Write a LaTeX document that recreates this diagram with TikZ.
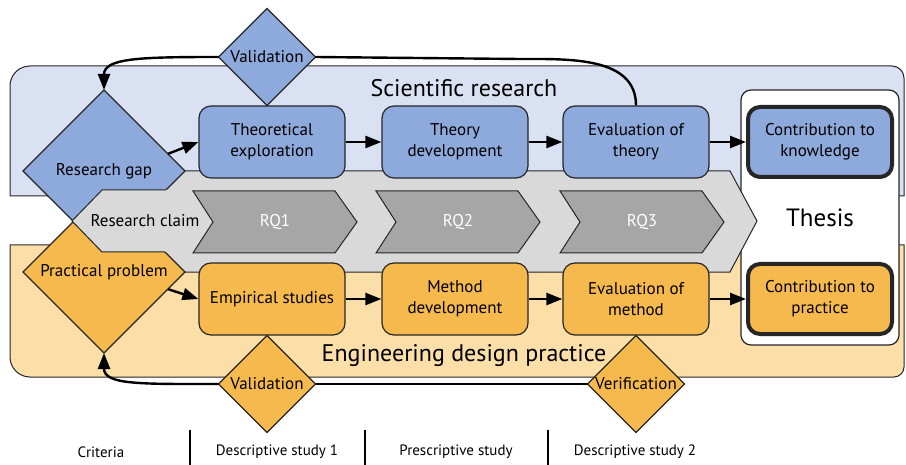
\documentclass[tikz,border=0pt]{standalone}
\usepackage{fontspec}
\setmainfont{PT Sans}
\usetikzlibrary{shapes.geometric, arrows.meta}

\definecolor{sciblue}{HTML}{8EA9DB}
\definecolor{scibg}{HTML}{DAE1F3}
\definecolor{engorange}{HTML}{F5B94E}
\definecolor{engbg}{HTML}{FBDEA8}
\definecolor{claimgray}{HTML}{D9D9D9}
\definecolor{rqgray}{HTML}{A6A6A6}
\definecolor{edgegray}{HTML}{262626}

\tikzset{
  every node/.style={font=\fontsize{8.5}{10.5}\selectfont, align=center, text=black}, % all labels
  band/.style={draw=edgegray, line width=0.5pt}, % the two coloured backgrounds
  box/.style={draw=edgegray, line width=0.6pt, rounded corners=6pt, minimum width=73pt, minimum height=36pt, inner sep=1pt},
  scibox/.style={box, fill=sciblue},
  engbox/.style={box, fill=engorange},
  contrib/.style={line width=2pt, minimum width=72pt, minimum height=35pt}, % thick outcome boxes
  gate/.style={diamond, draw=edgegray, line width=0.6pt, inner sep=0pt, outer sep=0pt}, % decision diamonds
  chevron/.style={draw=edgegray, line width=0.5pt},
  flow/.style={-{Triangle[length=8pt,width=6pt]}, line width=1.2pt}, % arrows between steps
  phase/.style={font=\fontsize{7.5}{9}\selectfont}, % labels under the picture
}

\begin{document}
\begin{tikzpicture}[x=0.5pt, y=-0.5pt]
  \useasboundingbox (0,0) rectangle (906,465);

  % backgrounds
  \draw[band, fill=scibg] (10,196) -- (10,86) arc[start angle=180, end angle=90, radius=10pt] -- (892,66) arc[start angle=90, end angle=0, radius=6pt] -- (904,196) -- cycle;
  \draw[band, fill=engbg] (10,245) -- (10,357) arc[start angle=180, end angle=270, radius=10pt] -- (894,377) arc[start angle=270, end angle=360, radius=5pt] -- (904,245) -- cycle;
  \node[font=\fontsize{12}{14}\selectfont] (scitext) at (464,88) {Scientific research};
  \node[font=\fontsize{12}{14}\selectfont] (engtext) at (464,356) {Engineering design practice};

  \node[draw=edgegray, line width=0.6pt, fill=white, rounded corners=5pt, minimum width=79pt, minimum height=127.5pt, font=\fontsize{12.5}{14}\selectfont] (thesis) at (820,217.5) {Thesis};

  % research claim band
  \filldraw[chevron, fill=claimgray] (150,171) -- (730,171) -- (757,221) -- (730,272) -- (150,272) -- cycle;

  \node[gate, fill=sciblue, minimum size=81pt] (gap) at (104,171) {Research gap};
  \node[gate, fill=engorange, minimum size=81pt] (problem) at (104,272) {Practical problem};

  \fill[claimgray] (102,190) -- (190,190) -- (190,252) -- (102,252) -- (72,221) -- cycle;
  \draw[chevron] (166,190) -- (102,190) -- (72,221) -- (102,252) -- (165,252);
  \node (claim) at (145,221) {Research claim};

  \filldraw[chevron, fill=rqgray] (193,191) -- (335,191) -- (357,222) -- (335,253) -- (193,253) -- (213,222) -- cycle;
  \filldraw[chevron, fill=rqgray] (376,191) -- (518,191) -- (540,222) -- (518,253) -- (376,253) -- (396,222) -- cycle;
  \filldraw[chevron, fill=rqgray] (560,191) -- (702,191) -- (724,222) -- (702,253) -- (560,253) -- (580,222) -- cycle;
  \node[text=white] (rq1) at (275,222) {RQ1};
  \node[text=white] (rq2) at (458,222) {RQ2};
  \node[text=white] (rq3) at (642,222) {RQ3};

  % steps
  \node[scibox] (explore) at (272,142) {Theoretical\\exploration};
  \node[scibox] (theory) at (455,142) {Theory\\development};
  \node[scibox] (evaltheory) at (636,142) {Evaluation of\\theory};
  \node[scibox, contrib] (knowledge) at (820,142) {Contribution to\\knowledge};
  \node[engbox] (empirical) at (272,299) {Empirical studies};
  \node[engbox] (method) at (455,299) {Method\\development};
  \node[engbox] (evalmethod) at (636,299) {Evaluation of\\method};
  \node[engbox, contrib] (practice) at (820,299) {Contribution to\\practice};

  \draw[flow] (gap.15) -- (explore.west);
  \draw[flow] (explore) -- (theory);
  \draw[flow] (theory) -- (evaltheory);
  \draw[flow] (evaltheory) -- (knowledge);
  \draw[flow] (problem.-15) -- (empirical.west);
  \draw[flow] (empirical) -- (method);
  \draw[flow] (method) -- (evalmethod);
  \draw[flow] (evalmethod) -- (practice);

  % feedback loops
  \node[gate, fill=sciblue, minimum size=48.5pt, label={center:Validation}] (valtop) at (267,57) {};
  \node[gate, fill=engorange, minimum size=48.5pt, label={center:Validation}] (valbottom) at (267,384) {};
  \node[gate, fill=engorange, minimum size=48.5pt, label={center:Verification}] (verify) at (636,384) {};
  \draw[line width=1.2pt] (evaltheory.north) to[out=90, in=0] (520,59) -- (valtop.east);
  \draw[flow] (valtop.west) .. controls +(-78,0) and +(0,-32) .. (gap.north);
  \draw[line width=1.2pt] (verify.west) -- (valbottom.east);
  \draw[flow] (valbottom.west) .. controls +(-78,0) and +(0,32) .. (problem.south);

  % phases
  \draw[line width=0.6pt] (190,430) -- (190,465);
  \draw[line width=0.6pt] (365,430) -- (365,465);
  \draw[line width=0.6pt] (548,430) -- (548,465);
  \node[phase] (criteria) at (101,452) {Criteria};
  \node[phase] (ds1) at (277,452) {Descriptive study 1};
  \node[phase] (ps) at (456,452) {Prescriptive study};
  \node[phase] (ds2) at (635,452) {Descriptive study 2};
\end{tikzpicture}
\end{document}
